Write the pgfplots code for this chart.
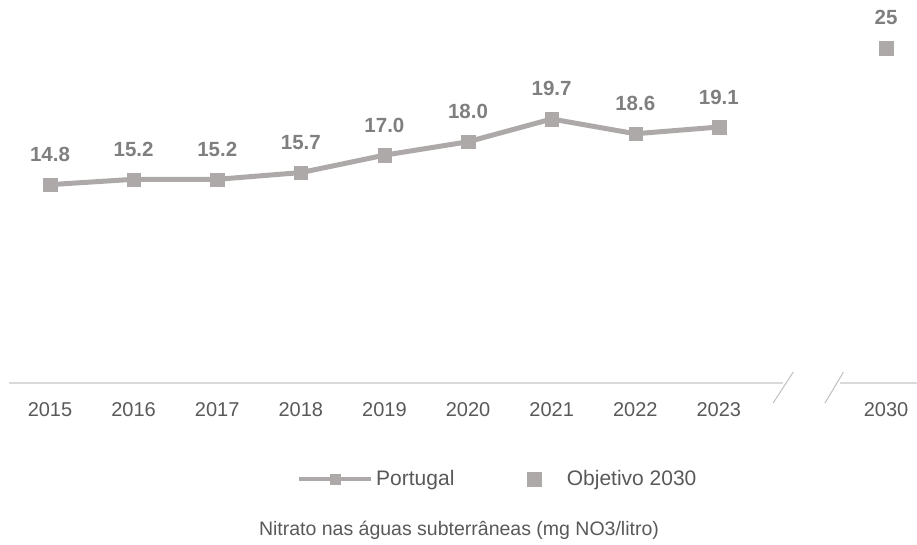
\documentclass[border=0pt]{standalone}
\usepackage{pgfplots}
\pgfplotsset{compat=1.18}
\usepackage{fontspec}
\setmainfont{Liberation Sans}
\definecolor{serie}{RGB}{173,169,169}
\definecolor{lbl}{RGB}{127,127,127}
\definecolor{txt}{RGB}{89,89,89}
\definecolor{axl}{RGB}{217,217,217}
\definecolor{brk}{RGB}{191,191,191}
\pgfplotsset{
 lineleg/.style={legend image code/.code={\draw[mark repeat=2,mark phase=2,##1,line width=4pt,mark size=5pt] plot coordinates {(0pt,0pt) (36pt,0pt) (72pt,0pt)};}},
 markleg/.style={legend image code/.code={\path (0pt,0pt) (60pt,0pt); \draw[##1, mark size=7pt] plot coordinates {(30pt,0pt)};}},
}
\begin{document}
\begin{tikzpicture}[x=1pt,y=1pt]
\begin{axis}[
 at={(0,0)}, anchor=south west,
 scale only axis, width=917pt, height=383pt,
 xmin=-0.598, xmax=10.37, ymin=0, ymax=28.58,
 clip=false,
 axis line style={draw=none},
 ytick=\empty,
 xtick={0,1,2,3,4,5,6,7,8,10},
 xticklabels={2015,2016,2017,2018,2019,2020,2021,2022,2023,2030},
 major tick length=0pt,
 tick label style={font=\fontsize{20}{24}\selectfont, text=txt},
 xticklabel style={anchor=base, yshift=-33pt},
 /pgf/number format/assume math mode=true,
 every node near coord/.append style={font=\fontsize{20.5}{24}\selectfont\bfseries, text=lbl, anchor=base, yshift=23pt},
 legend columns=2,
 legend style={draw=none, fill=none, inner sep=0pt, at={(0.3239,-0.2507)}, anchor=west,
   font=\fontsize{21}{25}\selectfont, text=txt,
   nodes={inner sep=3pt},
   /tikz/every even column/.append style={column sep=46pt}},
]
\draw[axl, line width=1.5pt] (axis cs:-0.49,0) -- (axis cs:8.77,0);
\draw[axl, line width=1.5pt] (axis cs:9.45,0) -- (axis cs:10.37,0);
\draw[brk, line width=1pt] (axis cs:8.65,-1.49) -- (axis cs:8.89,0.82);
\draw[brk, line width=1pt] (axis cs:9.27,-1.49) -- (axis cs:9.49,0.82);

\addplot[color=serie, line width=5pt, mark=square*, mark size=6.7pt,
  mark options={solid, line width=0.1pt},
  nodes near coords={\pgfmathprintnumber[fixed,fixed zerofill,precision=1]{\pgfplotspointmeta}},
  point meta=y, lineleg]
coordinates {(0,14.8) (1,15.2) (2,15.2) (3,15.7) (4,17.0) (5,18.0) (6,19.7) (7,18.6) (8,19.1)};
\addlegendentry{Portugal}

\addplot[only marks, color=serie, mark=square*, mark size=7pt,
  mark options={solid, line width=0.1pt},
  nodes near coords={\pgfmathprintnumber[fixed,precision=0]{\pgfplotspointmeta}},
  point meta=y, markleg]
coordinates {(10,25)};
\addlegendentry{Objetivo 2030}

\node[anchor=base, font=\fontsize{19.5}{23}\selectfont, text=txt] at (axis description cs:0.5005,-0.397) {Nitrato nas águas subterrâneas (mg NO3/litro)};
\end{axis}
\pgfresetboundingbox
\path[use as bounding box] (0,-162) rectangle (917,383);
\end{tikzpicture}
\end{document}
